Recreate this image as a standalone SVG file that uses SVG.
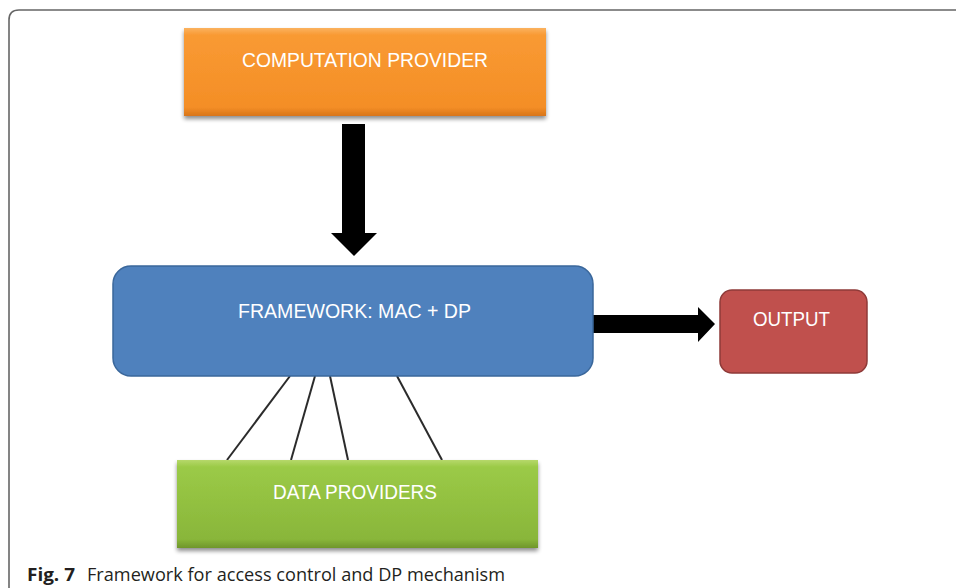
<svg xmlns="http://www.w3.org/2000/svg" width="956" height="588" viewBox="0 0 956 588">
<defs>
<linearGradient id="gOrange" x1="0" y1="0" x2="0" y2="1">
<stop offset="0" stop-color="#fbb25f"/>
<stop offset="0.08" stop-color="#f99a33"/>
<stop offset="0.9" stop-color="#f48e26"/>
<stop offset="1" stop-color="#d8751a"/>
</linearGradient>
<linearGradient id="gGreen" x1="0" y1="0" x2="0" y2="1">
<stop offset="0" stop-color="#b6d86a"/>
<stop offset="0.08" stop-color="#9bca47"/>
<stop offset="0.9" stop-color="#89b63a"/>
<stop offset="1" stop-color="#6f962b"/>
</linearGradient>
<filter id="shadow" x="-5%" y="-10%" width="110%" height="130%">
<feGaussianBlur in="SourceAlpha" stdDeviation="2"/>
<feOffset dx="0" dy="3" result="b"/>
<feComponentTransfer><feFuncA type="linear" slope="0.45"/></feComponentTransfer>
<feMerge><feMergeNode/><feMergeNode in="SourceGraphic"/></feMerge>
</filter>
<style>
.lbl{font-family:"Liberation Sans","Open Sans",sans-serif;font-size:20.5px;fill:#ffffff;}
.cap{font-family:"Open Sans","Liberation Sans",sans-serif;font-size:18.5px;fill:#231f20;}
.capb{font-family:"Open Sans","Liberation Sans",sans-serif;font-size:18.5px;font-weight:bold;fill:#231f20;}
.thin{stroke:#2b2b2b;stroke-width:2;fill:none;}
.frame{stroke:#666666;stroke-width:1.6;fill:none;}
</style>
</defs>
<rect width="956" height="588" fill="#ffffff"/>
<path class="frame" d="M9,588 V20 Q9,10 19,10 H956"/>

<g id="connectors">
<polygon points="342,124 365,124 365,233 377,233 354,256 331,233 342,233" fill="#000000"/>
<polygon points="593,315 698,315 698,307 715,324 698,342 698,333 593,333" fill="#000000"/>
<line class="thin" x1="290" y1="376" x2="227" y2="460"/>
<line class="thin" x1="315" y1="376" x2="291" y2="460"/>
<line class="thin" x1="330" y1="376" x2="348" y2="460"/>
<line class="thin" x1="397" y1="376" x2="442" y2="460"/>
</g>

<g id="computation-provider">
<rect x="184" y="28" width="362" height="88" fill="url(#gOrange)" filter="url(#shadow)"/>
<text class="lbl" x="365" y="67" text-anchor="middle" textLength="246" lengthAdjust="spacingAndGlyphs">COMPUTATION PROVIDER</text>
</g>

<g id="framework">
<rect x="113" y="266" width="480" height="110" rx="18" fill="#4f81bd" stroke="#3a679b" stroke-width="1.5"/>
<text class="lbl" x="354.5" y="318" text-anchor="middle" textLength="233" lengthAdjust="spacingAndGlyphs">FRAMEWORK: MAC + DP</text>
</g>

<g id="output">
<rect x="720" y="290" width="147" height="83" rx="12" fill="#c0504d" stroke="#8e3a38" stroke-width="1.5"/>
<text class="lbl" x="791.5" y="326" text-anchor="middle" textLength="77" lengthAdjust="spacingAndGlyphs">OUTPUT</text>
</g>

<g id="data-providers">
<rect x="177" y="460" width="361" height="88" fill="url(#gGreen)" filter="url(#shadow)"/>
<text class="lbl" x="355" y="499" text-anchor="middle" textLength="164" lengthAdjust="spacingAndGlyphs">DATA PROVIDERS</text>
</g>

<text class="capb" x="27" y="581" textLength="48" lengthAdjust="spacingAndGlyphs">Fig. 7</text>
<text class="cap" x="87" y="581" textLength="418" lengthAdjust="spacingAndGlyphs">Framework for access control and DP mechanism</text>
</svg>
